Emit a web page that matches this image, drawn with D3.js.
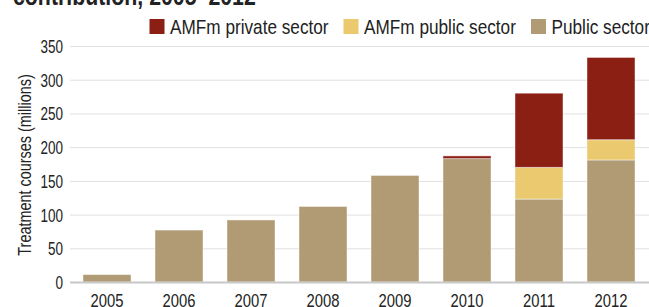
<!DOCTYPE html>
<html lang="en">
<head>
  <meta charset="utf-8">
  <title>treatment courses</title>
  <style>
  * { margin:0; padding:0; }
  body { background: #fff; }
  svg { display: block; font-family: "Liberation Sans", Arial, sans-serif; }
  .grid line { stroke: #e0e0e0; stroke-width: 1px; }
  .tick text { fill: #222; }
  </style>
  <script src="https://d3js.org/d3.v7.min.js"></script>
</head>
<body>
  <div id="chart"></div>
  <script type="text/javascript">
    // values (millions of treatment courses)
    var years = ["2005","2006","2007","2008","2009","2010","2011","2012"];
    var publicSector = [11, 77, 92, 112, 158, 183, 123, 181];
    var amfmPublic   = [0, 0, 0, 0, 0, 0, 47, 30];
    var amfmPrivate  = [0, 0, 0, 0, 0, 4, 110, 122];
    var seriesNames = ["AMFm private sector", "AMFm public sector", "Public sector"];
    var seriesColors = ["#8b1f13", "#eac96f", "#b09b75"];
    var yTicks = [0, 50, 100, 150, 200, 250, 300, 350];

    var width = 649, height = 307;
    // no condensed font installed, so squeeze a normal one horizontally
    function narrow(s) { return " scale(" + s + ",1)"; }

    var svg = d3.select("#chart").append("svg")
      .attr("width", width)
      .attr("height", height);

    var x = d3.scaleBand().domain(years).range([71, 647])
      .paddingInner(1/3).paddingOuter(1/6);
    var y = d3.scaleLinear().domain([0, 350]).range([282, 46]);

    // title, cut off by the top edge
    svg.append("text")
      .attr("transform", "translate(13,5)" + narrow(0.82))
      .style("font-size", "26px").style("font-weight", "bold").style("fill", "#222")
      .text("contribution, 2005\u20132012");

    // grid
    var grid = svg.append("g").attr("class", "grid");
    grid.selectAll("line").data(yTicks.filter(function(d){ return d > 0; })).join("line")
      .attr("x1", 70).attr("x2", 649)
      .attr("y1", function(d){ return y(d) + 0.5; })
      .attr("y2", function(d){ return y(d) + 0.5; });

    // stacked bars
    var rows = years.map(function(yr, i){
      return {year: yr, pub: publicSector[i], amfmPub: amfmPublic[i], amfmPriv: amfmPrivate[i]};
    });
    var stack = d3.stack().keys(["pub", "amfmPub", "amfmPriv"]);
    var layers = stack(rows);
    var colorOf = {pub: seriesColors[2], amfmPub: seriesColors[1], amfmPriv: seriesColors[0]};

    svg.append("g").selectAll("g").data(layers).join("g")
      .attr("fill", function(d){ return colorOf[d.key]; })
      .selectAll("rect").data(function(d){ return d.filter(function(s){ return s[1] > s[0]; }); }).join("rect")
      .attr("x", function(d){ return x(d.data.year); })
      .attr("width", x.bandwidth())
      .attr("y", function(d){ return y(d[1]); })
      .attr("height", function(d){ return y(d[0]) - y(d[1]); })
      .attr("stroke", "#fff").attr("stroke-opacity", 0.45).attr("stroke-width", 1);

    // baseline
    svg.append("line")
      .attr("x1", 70).attr("x2", 649)
      .attr("y1", y(0) + 0.5).attr("y2", y(0) + 0.5)
      .attr("stroke", "#c8c8c8").attr("stroke-width", 2);

    // y axis labels
    var yAxis = svg.append("g").attr("transform", "translate(63,0)")
      .call(d3.axisLeft(y).tickValues(yTicks).tickSize(0).tickPadding(0));
    yAxis.select(".domain").remove();
    yAxis.selectAll("text").style("font-size", "18px").attr("dy", "0.36em")
      .style("font-family", "'Liberation Sans', sans-serif")
      .attr("transform", narrow(0.75));

    // x axis labels
    var xAxis = svg.append("g").attr("transform", "translate(0,294)")
      .call(d3.axisBottom(x).tickSize(0).tickPadding(0));
    xAxis.select(".domain").remove();
    xAxis.selectAll("text").style("font-size", "18.5px").attr("dy", "0.71em")
      .style("font-family", "'Liberation Sans', sans-serif")
      .attr("transform", narrow(0.8));

    // y axis title
    svg.append("text")
      .attr("transform", "translate(31,165) rotate(-90)" + narrow(0.78))
      .attr("text-anchor", "middle")
      .style("font-size", "18.5px").style("fill", "#222")
      .text("Treatment courses (millions)");

    // legend
    var legendX = [149.5, 343.5, 531];
    var legend = svg.append("g").selectAll("g").data(seriesNames).join("g")
      .attr("transform", function(d, i){ return "translate(" + legendX[i] + ",19)"; });
    legend.append("rect").attr("width", 15).attr("height", 15)
      .attr("fill", function(d, i){ return seriesColors[i]; });
    legend.append("text").attr("transform", "translate(20.5,14.5)" + narrow(0.86))
      .style("font-size", "20px").style("fill", "#222")
      .text(function(d){ return d; });
  </script>
</body>
</html>
